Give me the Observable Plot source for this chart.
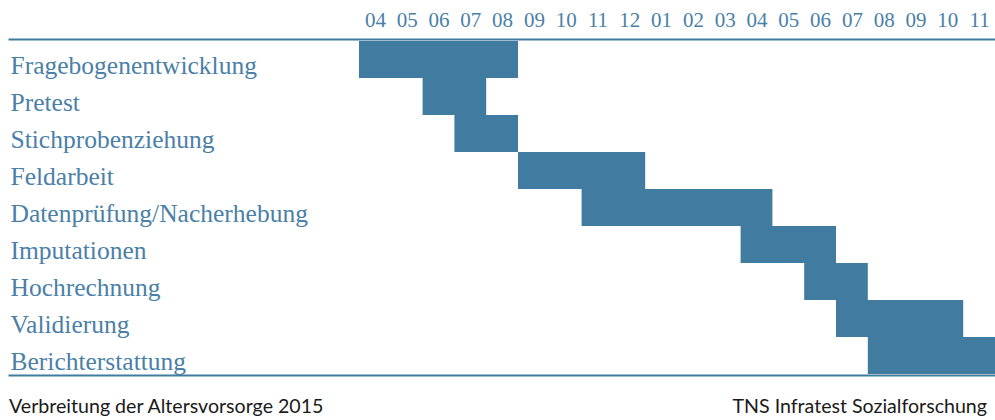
<!DOCTYPE html>
<html>
<head>
<meta charset="utf-8">
<script src="https://cdn.jsdelivr.net/npm/d3@7"></script>
<script src="https://cdn.jsdelivr.net/npm/@observablehq/plot@0.6"></script>
<style>
  html, body { margin: 0; padding: 0; background: #fff; }
  #chart svg { display: block; }
  .footer { position: relative; height: 40px; font-family: Lato, sans-serif; font-size: 19.6px; color: #1a1a1a; }
  .footer .l { position: absolute; left: 9px; top: 14px; }
  .footer .r { position: absolute; right: 8px; top: 14px; }
</style>
</head>
<body>
<div id="chart"></div>
<div class="footer"><span class="l">Verbreitung der Altersvorsorge 2015</span><span class="r">TNS Infratest Sozialforschung</span></div>
<script>
const months = ["04","05","06","07","08","09","10","11","12","01","02","03","04","05","06","07","08","09","10","11"];
const tasks = ["Fragebogenentwicklung","Pretest","Stichprobenziehung","Feldarbeit","Datenprüfung/Nacherhebung","Imputationen","Hochrechnung","Validierung","Berichterstattung"];
const startMonth = [0, 2, 3, 5, 7, 12, 14, 15, 16];   // index into months
const endMonth   = [4, 3, 4, 8, 12, 14, 15, 18, 19];  // inclusive index into months

const data = tasks.map((t, i) => ({task: t, start: startMonth[i], end: endMonth[i] + 1}));
const blue = "#417ca0";
const textBlue = "#4a80a8";

const chart = Plot.plot({
  width: 995,
  height: 380,
  marginLeft: 9,
  marginRight: 0,
  marginTop: 39,
  marginBottom: 5,
  x: {domain: [0, months.length], range: [359, 995], axis: null},
  y: {domain: tasks, padding: 0, axis: null},
  marks: [
    Plot.barX(data, {x1: "start", x2: "end", y: "task", fill: blue, inset: 0}),
    Plot.frame({anchor: "top", stroke: blue, strokeWidth: 2}),
    Plot.frame({anchor: "bottom", stroke: blue, strokeWidth: 2}),
    Plot.text(tasks, {y: d => d, frameAnchor: "left", dx: 1, dy: 6, text: d => d, textAnchor: "start", fill: textBlue, fontSize: 25.5, fontFamily: "Liberation Serif"}),
    Plot.axisX({anchor: "top", ticks: months.map((m, i) => i + 0.5), tickFormat: v => months[Math.floor(v)], tickSize: 0, tickPadding: 13, fontSize: 21, fontFamily: "Liberation Serif", color: textBlue})
  ]
});
document.getElementById("chart").appendChild(chart);
</script>
</body>
</html>
